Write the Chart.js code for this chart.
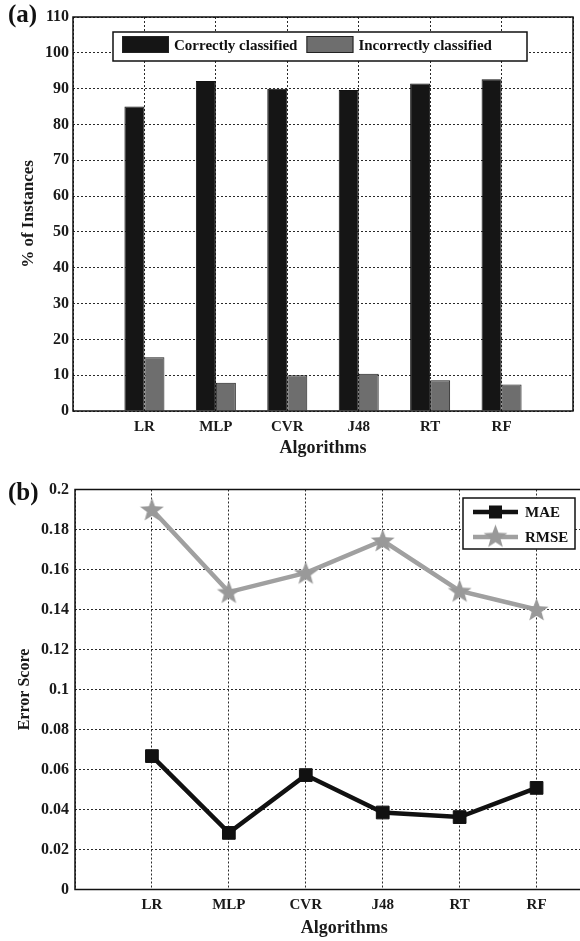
<!DOCTYPE html>
<html>
<head>
<meta charset="utf-8">
<script src="https://cdn.jsdelivr.net/npm/chart.js@4.4.1/dist/chart.umd.min.js"></script>
<style>
html, body { margin: 0; padding: 0; background: #fff; }
#wrap { position: relative; width: 580px; height: 941px; overflow: hidden; }
#c1 { position: absolute; left: 0; top: 0; }
#c2 { position: absolute; left: 0; top: 462px; }
</style>
</head>
<body>
<div id="wrap">
	<canvas id="c1" width="580" height="462"></canvas>
	<canvas id="c2" width="630" height="479"></canvas>
</div>
<script>
// values
const algorithms = ["LR", "MLP", "CVR", "J48", "RT", "RF"];
const correctlyClassified = [85.0, 92.1, 90.0, 89.6, 91.4, 92.6];
const incorrectlyClassified = [15.0, 7.9, 10.0, 10.4, 8.6, 7.4];
const maeScores = [0.0667, 0.0283, 0.0572, 0.0385, 0.0362, 0.0508];
const rmseScores = [0.190, 0.1487, 0.1583, 0.1745, 0.1493, 0.140];
const pctMax = 110, pctStep = 10;
const errMax = 0.2, errStep = 0.02;

const serif = "'Liberation Serif', 'Times New Roman', serif";
const font = (size) => ({family: serif, size: size, weight: "bold"});

// empty slot before LR and after RF, like the original axis
const slots = ["", ...algorithms, ""];
const padded = (arr) => [null, ...arr, null];

// filled five-point star for RMSE markers
const starImg = (function() {
	const c = document.createElement("canvas");
	c.width = 25; c.height = 25;
	const g = c.getContext("2d");
	g.beginPath();
	for (let i = 0; i < 10; i++) {
		const r = i % 2 ? 5.2 : 12.5;
		const a = -Math.PI / 2 + i * Math.PI / 5;
		g.lineTo(12.5 + r * Math.cos(a), 13.5 + r * Math.sin(a));
	}
	g.closePath();
	g.fillStyle = "#999";
	g.fill();
	return c;
})();

const gridOpts = {color: "#2a2a2a", lineWidth: 1, drawTicks: false, offset: false};
const borderOpts = {display: false, dash: [2, 2]};

const frame = {
	id: "frame",
	afterDraw(chart, args, opts) {
		const {ctx, chartArea: a} = chart;
		ctx.save();
		ctx.strokeStyle = "#111";
		ctx.lineWidth = 1.5;
		ctx.strokeRect(a.left, a.top, a.right - a.left, a.bottom - a.top);
		ctx.fillStyle = "#111";
		ctx.font = "bold 25px " + serif;
		ctx.textBaseline = "alphabetic";
		ctx.fillText(opts.panel, 8, opts.panelY);
		ctx.restore();
	}
};

const barLegend = {
	id: "barLegend",
	afterDraw(chart) {
		const ctx = chart.ctx;
		ctx.save();
		ctx.fillStyle = "#fff";
		ctx.fillRect(113, 32, 414, 29);
		ctx.strokeStyle = "#111";
		ctx.lineWidth = 1.5;
		ctx.strokeRect(113, 32, 414, 29);
		ctx.font = "bold 15px " + serif;
		ctx.textBaseline = "middle";
		let x = 122;
		for (const ds of chart.data.datasets) {
			ctx.fillStyle = ds.backgroundColor;
			ctx.fillRect(x, 36, 47, 17);
			ctx.lineWidth = 1;
			ctx.strokeStyle = "#222";
			ctx.strokeRect(x + 0.5, 36.5, 46, 16);
			x += 52;
			ctx.fillStyle = "#111";
			ctx.fillText(ds.label, x, 46);
			x += ctx.measureText(ds.label).width + 9;
		}
		ctx.restore();
	}
};

const lineLegend = {
	id: "lineLegend",
	afterDraw(chart) {
		const ctx = chart.ctx;
		ctx.save();
		ctx.fillStyle = "#fff";
		ctx.fillRect(463, 36, 112, 51);
		ctx.strokeStyle = "#111";
		ctx.lineWidth = 1.5;
		ctx.strokeRect(463, 36, 112, 51);
		ctx.font = "bold 15px " + serif;
		ctx.textBaseline = "middle";
		chart.data.datasets.forEach((ds, i) => {
			const y = 50 + i * 25;
			ctx.strokeStyle = ds.borderColor;
			ctx.lineWidth = ds.borderWidth;
			ctx.beginPath();
			ctx.moveTo(473, y);
			ctx.lineTo(518, y);
			ctx.stroke();
			if (ds.pointStyle === "rect") {
				ctx.fillStyle = ds.pointBackgroundColor;
				ctx.fillRect(489, y - 6.5, 13, 13);
			} else {
				ctx.drawImage(ds.pointStyle, 495.5 - 12.5, y - 13.5);
			}
			ctx.fillStyle = "#111";
			ctx.fillText(ds.label, 525, y + 1);
		});
		ctx.restore();
	}
};

new Chart(document.getElementById("c1"), {
	type: "bar",
	data: {
		labels: slots,
		datasets: [
			{label: "Correctly classified", data: padded(correctlyClassified), backgroundColor: "#151515", borderColor: "#111", borderWidth: 1},
			{label: "Incorrectly classified", data: padded(incorrectlyClassified), backgroundColor: "#6e6e6e", borderColor: "#1e1e1e", borderWidth: 1}
		]
	},
	options: {
		responsive: false,
		animation: false,
		layout: {padding: {top: 17, right: 5, left: 0, bottom: 0}},
		categoryPercentage: 0.56,
		barPercentage: 1,
		plugins: {legend: {display: false}, tooltip: {enabled: false}, frame: {panel: "(a)", panelY: 22}},
		scales: {
			x: {
				offset: false,
				grid: gridOpts,
				border: borderOpts,
				ticks: {font: font(15), color: "#1a1a1a", padding: 7, maxRotation: 0, autoSkip: false},
				title: {display: true, text: "Algorithms", font: font(18), color: "#1a1a1a", padding: {top: 0, bottom: 3}},
				afterFit: (s) => { s.height = 51; }
			},
			y: {
				min: 0, max: pctMax,
				ticks: {stepSize: pctStep, font: font(16), color: "#1a1a1a", padding: 4},
				grid: gridOpts,
				border: borderOpts,
				title: {display: true, text: "% of Instances", font: font(17), color: "#1a1a1a", padding: {top: 18, bottom: 0}},
				afterFit: (s) => { s.width = 73; }
			}
		}
	},
	plugins: [frame, barLegend]
});

new Chart(document.getElementById("c2"), {
	type: "line",
	data: {
		labels: slots,
		datasets: [
			{label: "MAE", data: padded(maeScores), borderColor: "#111", borderWidth: 4.5, pointStyle: "rect", pointRadius: 9, pointBackgroundColor: "#111", pointBorderColor: "#111", pointBorderWidth: 1, tension: 0},
			{label: "RMSE", data: padded(rmseScores), borderColor: "#a0a0a0", borderWidth: 4.5, pointStyle: starImg, pointRadius: 12, tension: 0}
		]
	},
	options: {
		responsive: false,
		animation: false,
		layout: {padding: {top: 27.5, right: 10, left: 0, bottom: 0}},
		plugins: {legend: {display: false}, tooltip: {enabled: false}, frame: {panel: "(b)", panelY: 38}},
		scales: {
			x: {
				offset: false,
				grid: gridOpts,
				border: borderOpts,
				ticks: {font: font(15), color: "#1a1a1a", padding: 7, maxRotation: 0, autoSkip: false},
				title: {display: true, text: "Algorithms", font: font(18), color: "#1a1a1a", padding: {top: 0, bottom: 2}},
				afterFit: (s) => { s.height = 51.5; }
			},
			y: {
				min: 0, max: errMax,
				ticks: {stepSize: errStep, font: font(16), color: "#1a1a1a", padding: 6, callback: (v) => String(+v.toFixed(2))},
				grid: gridOpts,
				border: borderOpts,
				title: {display: true, text: "Error Score", font: font(16), color: "#1a1a1a", padding: {top: 15, bottom: 0}},
				afterFit: (s) => { s.width = 75; }
			}
		}
	},
	plugins: [frame, lineLegend]
});
</script>
</body>
</html>
